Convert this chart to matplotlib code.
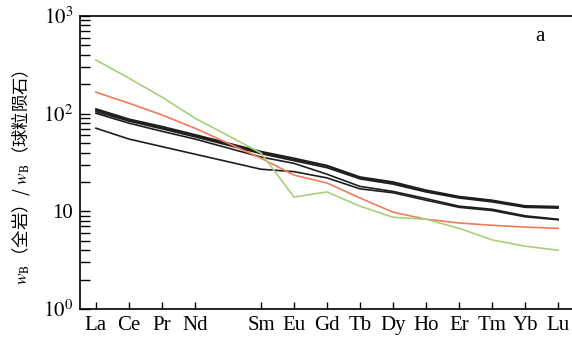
import numpy as np
import matplotlib.pyplot as plt
from matplotlib.ticker import FixedLocator, NullFormatter, LogLocator

plt.rcParams['font.family'] = ['Liberation Serif', 'Noto Sans CJK SC']
plt.rcParams['mathtext.fontset'] = 'stix'

# 稀土元素（Pm 位置留空）
ree_all = ['La', 'Ce', 'Pr', 'Nd', 'Pm', 'Sm', 'Eu', 'Gd', 'Tb', 'Dy', 'Ho', 'Er', 'Tm', 'Yb', 'Lu']
ree = [e for e in ree_all if e != 'Pm']

# 球粒陨石标准化值
s1 = [112, 88, 74, 61, 41, 35, 29.5, 22.5, 20, 16.5, 14.2, 13.0, 11.4, 11.2]
s2 = [109, 86, 72, 59.5, 40, 34, 29, 22, 19.5, 16, 14, 12.8, 11.2, 11.0]
s3 = [105, 84, 70, 58, 39, 33, 28, 21.5, 19, 15.8, 13.7, 12.5, 11.0, 10.8]
s4 = [101, 80, 66, 55, 36, 31, 24, 18, 16, 13.5, 11.3, 10.5, 9.0, 8.3]
s5 = [71, 55, 46, 38.5, 27, 25.5, 22, 17, 15.5, 13, 11, 10.2, 8.8, 8.2]
s_orange = [166, 128, 97, 71, 35, 23.5, 19.5, 13.7, 9.8, 8.3, 7.6, 7.2, 6.9, 6.7]
s_green = [354, 231, 148, 90, 39.5, 14.0, 15.8, 11.3, 8.7, 8.3, 6.7, 5.1, 4.4, 4.0]

x = [ree_all.index(e) for e in ree]

fig = plt.figure(figsize=(5.72, 3.37), dpi=100)
ax = fig.add_axes([0.140, 0.083, 0.860, 0.8695])

for s in [s1, s2, s3, s4, s5]:
    ax.plot(x, s, color='#1e1e1e', lw=1.2)
ax.plot(x, s_orange, color='#f47a5a', lw=1.2)
ax.plot(x, s_green, color='#a6d17a', lw=1.2)

ax.set_yscale('log')
ax.set_ylim(1, 1000)
ax.set_xlim(-0.48, 14.42)

ax.set_xticks(x)
ax.set_xticklabels(ree, fontsize=15)
ax.yaxis.set_major_locator(FixedLocator([1, 10, 100, 1000]))
ax.set_yticklabels(['$10^0$', '10', '$10^2$', '$10^3$'], fontsize=15)
ax.yaxis.set_minor_locator(LogLocator(base=10, subs=np.arange(2, 10)))
ax.yaxis.set_minor_formatter(NullFormatter())

ax.tick_params(axis='both', which='both', direction='in', width=1.0)
ax.tick_params(axis='y', which='major', length=7, pad=5)
ax.tick_params(axis='y', which='minor', length=7)
ax.tick_params(axis='x', which='major', length=5, pad=5)
for side in ['left', 'bottom', 'top']:
    ax.spines[side].set_linewidth(1.2)
ax.spines['right'].set_visible(False)

ax.set_ylabel('$w_{\\rm B}$（全岩）/ $w_{\\rm B}$（球粒陨石）', fontsize=12.5,
              family='Noto Sans CJK SC')
ax.yaxis.set_label_coords(-0.098, 0.45)
ax.text(0.925, 0.915, 'a', transform=ax.transAxes, fontsize=15)

fig.savefig('out.png', dpi=100)
